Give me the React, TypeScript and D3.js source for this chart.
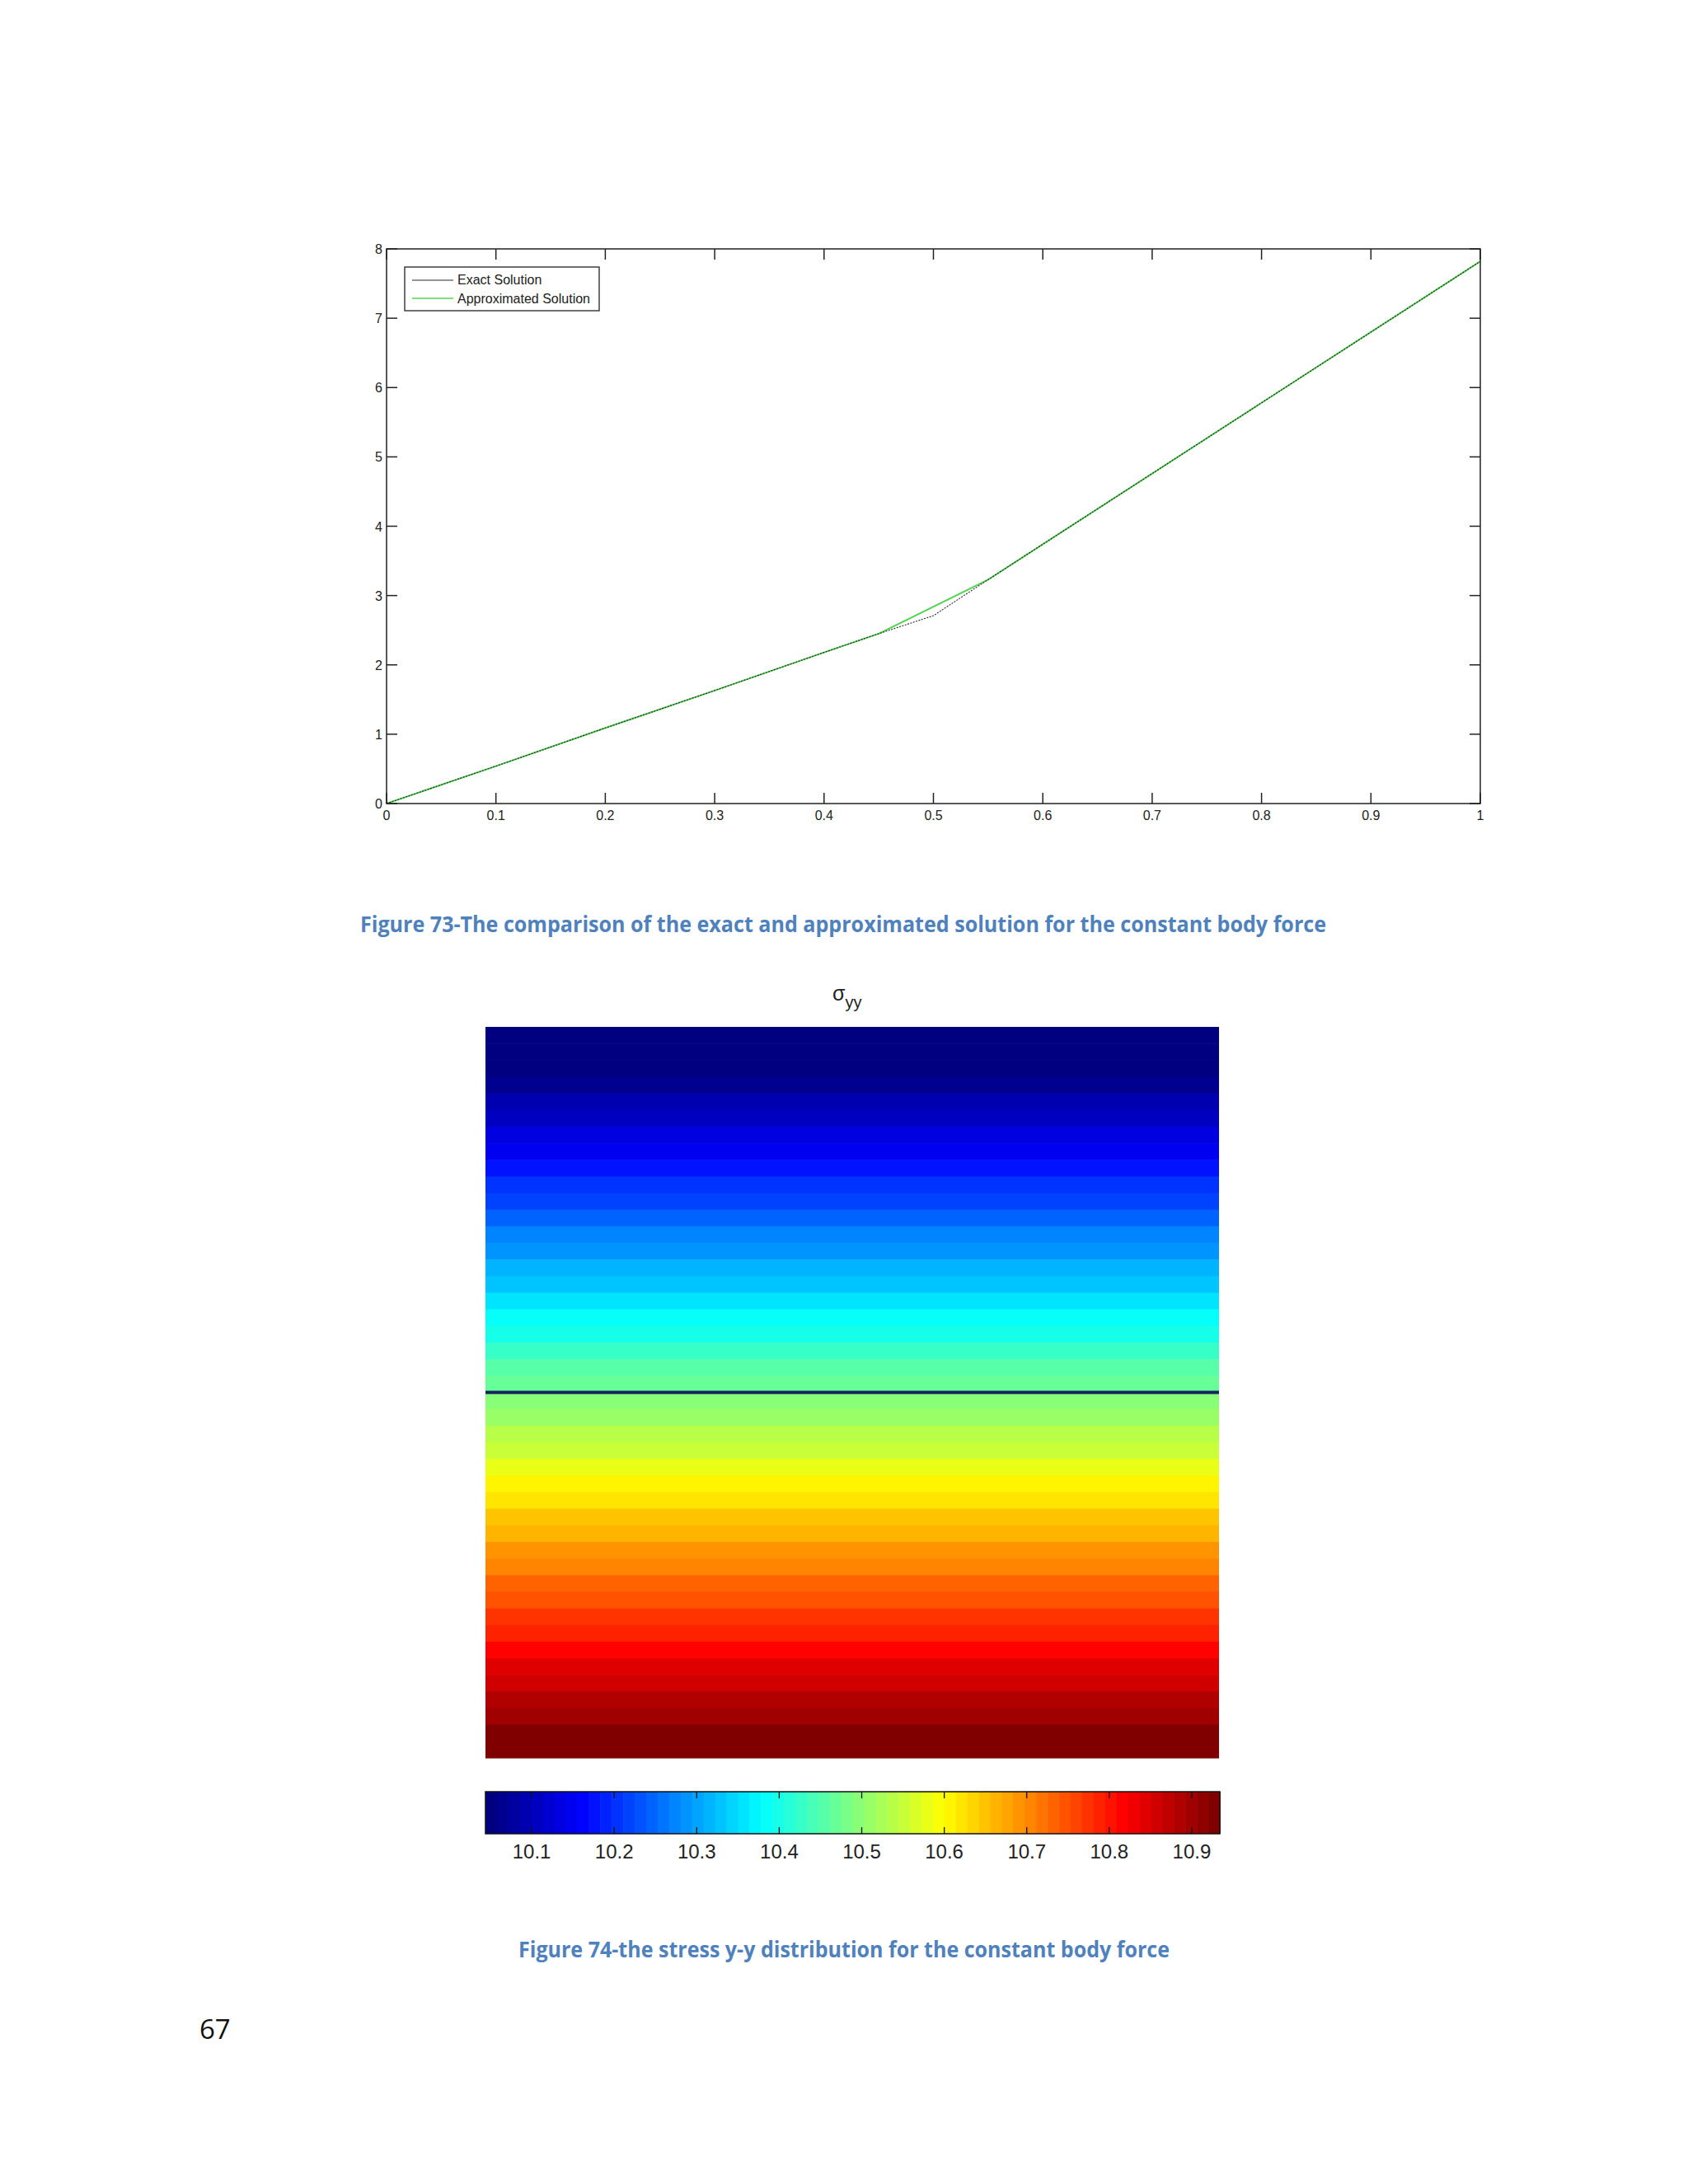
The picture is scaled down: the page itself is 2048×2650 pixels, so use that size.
import React from "react";
import * as d3 from "d3";

// ---------- Figure 73 data ----------
const xTicks = [0, 0.1, 0.2, 0.3, 0.4, 0.5, 0.6, 0.7, 0.8, 0.9, 1];
const xTickLabels = ["0", "0.1", "0.2", "0.3", "0.4", "0.5", "0.6", "0.7", "0.8", "0.9", "1"];
const yTicks = [0, 1, 2, 3, 4, 5, 6, 7, 8];
const exactX = [0, 0.1, 0.2, 0.3, 0.4, 0.45, 0.5, 0.55, 0.6, 0.7, 0.8, 0.9, 1];
const exactY = [0, 0.54, 1.09, 1.63, 2.18, 2.45, 2.71, 3.23, 3.74, 4.76, 5.78, 6.8, 7.82];
const approxX = [0, 0.1, 0.2, 0.3, 0.4, 0.45, 0.55, 0.6, 0.7, 0.8, 0.9, 1];
const approxY = [0, 0.54, 1.09, 1.63, 2.18, 2.45, 3.23, 3.74, 4.76, 5.78, 6.8, 7.82];
const legendLabels = ["Exact Solution", "Approximated Solution"];

// ---------- Figure 74 data ----------
const stressRows = [
  9.995, 10.018, 10.04, 10.063, 10.086, 10.108, 10.131, 10.153, 10.176, 10.199, 10.221,
  10.244, 10.267, 10.289, 10.312, 10.335, 10.357, 10.38, 10.403, 10.425, 10.448, 10.47,
  10.493, 10.515, 10.536, 10.558, 10.579, 10.601, 10.622, 10.644, 10.665, 10.687, 10.708,
  10.73, 10.751, 10.773, 10.794, 10.816, 10.837, 10.859, 10.88, 10.902, 10.923, 10.945,
];
const colorDomain = [10.044, 10.934];
const cbTicks = [10.1, 10.2, 10.3, 10.4, 10.5, 10.6, 10.7, 10.8, 10.9];
const cbTickLabels = ["10.1", "10.2", "10.3", "10.4", "10.5", "10.6", "10.7", "10.8", "10.9"];
const interfaceRow = 22; // boundary line between the two halves

const caption1 = "Figure 73-The comparison of the exact and approximated solution for the constant body force";
const caption2 = "Figure 74-the stress y-y distribution for the constant body force";
const pageNumber = "67";

const NLEV = 64;
function jet(t: number) {
  const c = (v: number) => Math.max(0, Math.min(1, v));
  const r = c(1.5 - Math.abs(4 * t - 3));
  const g = c(1.5 - Math.abs(4 * t - 2));
  const b = c(1.5 - Math.abs(4 * t - 1));
  return d3.rgb(r * 255, g * 255, b * 255).formatHex();
}
function jetQ(v: number) {
  const f = (v - colorDomain[0]) / (colorDomain[1] - colorDomain[0]);
  const k = Math.max(0, Math.min(NLEV - 1, Math.floor(f * NLEV)));
  return jet(k / (NLEV - 1));
}

export default function App() {
  // Figure 73 geometry
  const x = d3.scaleLinear().domain([0, 1]).range([469, 1796]);
  const y = d3.scaleLinear().domain([0, 8]).range([975, 302]);
  const line = d3
    .line<[number, number]>()
    .x((d) => x(d[0]))
    .y((d) => y(d[1]));
  const exactPts = exactX.map((v, i) => [v, exactY[i]] as [number, number]);
  const approxPts = approxX.map((v, i) => [v, approxY[i]] as [number, number]);
  const axisFont = "Arial, 'Liberation Sans', Helvetica, sans-serif";

  // Figure 74 geometry
  const hmX0 = 589;
  const hmX1 = 1479;
  const rowScale = d3
    .scaleBand<number>()
    .domain(stressRows.map((_, i) => i))
    .range([1246, 2133]);
  const cbX = d3.scaleLinear().domain(colorDomain).range([589, 1480]);
  const cbTop = 2174;
  const cbBot = 2225;
  const levels = d3.range(NLEV);
  const levStep = (colorDomain[1] - colorDomain[0]) / NLEV;
  const interfaceY = rowScale(interfaceRow)!;

  const captionFont = "'Open Sans', 'Noto Sans', sans-serif";

  return (
    <svg
      width={2048}
      height={2650}
      style={{ position: "absolute", left: 0, top: 0, background: "#ffffff" }}
    >
      <rect x={0} y={0} width={2048} height={2650} fill="#ffffff" />

      {/* ---------- Figure 73 ---------- */}
      <g>
        <rect x={x(0)} y={y(8)} width={x(1) - x(0)} height={y(0) - y(8)} fill="#ffffff" />
        <path d={line(approxPts)!} fill="none" stroke="#52d452" strokeWidth={2} />
        <path d={line(exactPts)!} fill="none" stroke="#2a2a2a" strokeWidth={1.1} strokeDasharray="2 1.5" />
        {/* ticks */}
        {xTicks.map((t, i) => (
          <g key={"xt" + i}>
            <line x1={x(t)} x2={x(t)} y1={y(0)} y2={y(0) - 13} stroke="#222" strokeWidth={1.5} />
            <line x1={x(t)} x2={x(t)} y1={y(8)} y2={y(8) + 13} stroke="#222" strokeWidth={1.5} />
            <text x={x(t)} y={y(0) + 20} fontSize={16} fontFamily={axisFont} textAnchor="middle" fill="#222">
              {xTickLabels[i]}
            </text>
          </g>
        ))}
        {yTicks.map((t, i) => (
          <g key={"yt" + i}>
            <line x1={x(0)} x2={x(0) + 13} y1={y(t)} y2={y(t)} stroke="#222" strokeWidth={1.5} />
            <line x1={x(1)} x2={x(1) - 13} y1={y(t)} y2={y(t)} stroke="#222" strokeWidth={1.5} />
            <text x={x(0) - 5} y={y(t) + 6} fontSize={16} fontFamily={axisFont} textAnchor="end" fill="#222">
              {String(t)}
            </text>
          </g>
        ))}
        <rect
          x={x(0)}
          y={y(8)}
          width={x(1) - x(0)}
          height={y(0) - y(8)}
          fill="none"
          stroke="#222"
          strokeWidth={1.5}
        />
        {/* legend */}
        <rect x={491} y={324} width={236} height={53} fill="#ffffff" stroke="#222" strokeWidth={1.3} />
        <line x1={500} x2={550} y1={340} y2={340} stroke="#2a2a2a" strokeWidth={1.2} />
        <line x1={500} x2={550} y1={362} y2={362} stroke="#52d452" strokeWidth={1.5} />
        <text x={555} y={345} fontSize={16} fontFamily={axisFont} fill="#222">
          {legendLabels[0]}
        </text>
        <text x={555} y={368} fontSize={16} fontFamily={axisFont} fill="#222">
          {legendLabels[1]}
        </text>
      </g>

      <text
        x={1023}
        y={1131}
        fontSize={26}
        fontWeight="bold"
        fontFamily={captionFont}
        fill="#4f81bd"
        textAnchor="middle"
        textLength={1172}
        lengthAdjust="spacingAndGlyphs"
      >
        {caption1}
      </text>

      {/* ---------- Figure 74 ---------- */}
      <text x={1010} y={1214} fontSize={25} fontFamily={axisFont} fill="#222">
        σ
        <tspan fontSize={20} dy={9}>
          yy
        </tspan>
      </text>
      <g>
        {stressRows.map((v, i) => (
          <rect
            key={"r" + i}
            x={hmX0}
            y={rowScale(i)!}
            width={hmX1 - hmX0}
            height={rowScale.bandwidth() + 0.6}
            fill={jetQ(v)}
          />
        ))}
        <line x1={hmX0} x2={hmX1} y1={interfaceY} y2={interfaceY} stroke="#16235e" strokeWidth={4} />
      </g>

      {/* colorbar */}
      <g>
        {levels.map((k) => (
          <rect
            key={"c" + k}
            x={cbX(colorDomain[0] + k * levStep)}
            y={cbTop}
            width={cbX(colorDomain[0] + (k + 1) * levStep) - cbX(colorDomain[0] + k * levStep) + 0.6}
            height={cbBot - cbTop}
            fill={jet(k / (NLEV - 1))}
          />
        ))}
        {cbTicks.map((t, i) => (
          <g key={"cb" + i}>
            <line x1={cbX(t)} x2={cbX(t)} y1={cbTop} y2={cbTop + 8} stroke="#111" strokeWidth={1.3} />
            <line x1={cbX(t)} x2={cbX(t)} y1={cbBot} y2={cbBot - 8} stroke="#111" strokeWidth={1.3} />
            <text
              x={cbX(t)}
              y={2255}
              fontSize={24}
              fontFamily={axisFont}
              textAnchor="middle"
              fill="#222"
            >
              {cbTickLabels[i]}
            </text>
          </g>
        ))}
        <rect
          x={cbX(colorDomain[0])}
          y={cbTop}
          width={cbX(colorDomain[1]) - cbX(colorDomain[0])}
          height={cbBot - cbTop}
          fill="none"
          stroke="#111"
          strokeWidth={1.5}
        />
      </g>

      <text
        x={1024}
        y={2375}
        fontSize={26}
        fontWeight="bold"
        fontFamily={captionFont}
        fill="#4f81bd"
        textAnchor="middle"
        textLength={790}
        lengthAdjust="spacingAndGlyphs"
      >
        {caption2}
      </text>

      <text x={242} y={2474} fontSize={33} fontFamily={captionFont} fill="#111">
        {pageNumber}
      </text>
    </svg>
  );
}
